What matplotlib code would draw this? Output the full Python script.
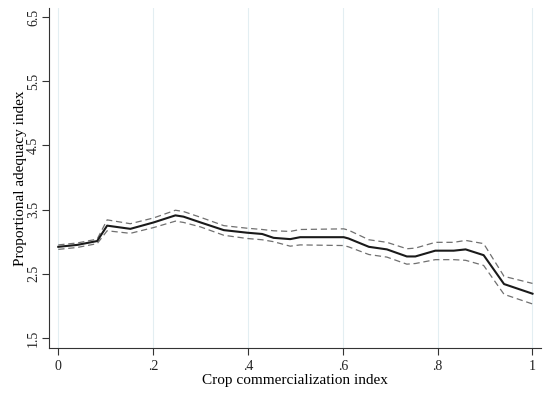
import matplotlib
matplotlib.use('Agg')
import matplotlib.pyplot as plt

plt.rcParams['font.family'] = ['Liberation Serif', 'DejaVu Serif']

# Fitted values
x = [0.0, 0.04, 0.082, 0.103, 0.152, 0.201, 0.247, 0.264, 0.30, 0.349, 0.398,
     0.43, 0.454, 0.489, 0.51, 0.602, 0.612, 0.655, 0.693, 0.735, 0.753,
     0.795, 0.834, 0.859, 0.897, 0.94, 1.0]
fit = [2.92, 2.95, 3.01, 3.25, 3.20, 3.30, 3.41, 3.39, 3.30, 3.18, 3.14,
       3.12, 3.06, 3.04, 3.07, 3.07, 3.05, 2.92, 2.88, 2.77, 2.77,
       2.86, 2.86, 2.88, 2.79, 2.34, 2.19]
upper = [2.95, 2.98, 3.04, 3.34, 3.28, 3.37, 3.49, 3.47, 3.38, 3.25, 3.21,
         3.19, 3.17, 3.16, 3.19, 3.20, 3.18, 3.03, 2.99, 2.89, 2.90,
         2.99, 2.99, 3.02, 2.97, 2.46, 2.35]
lower = [2.88, 2.91, 2.97, 3.17, 3.13, 3.22, 3.32, 3.30, 3.23, 3.10, 3.05,
         3.03, 3.00, 2.93, 2.95, 2.94, 2.92, 2.80, 2.76, 2.65, 2.66,
         2.72, 2.72, 2.71, 2.63, 2.18, 2.03]

xticks = [0, 0.2, 0.4, 0.6, 0.8, 1.0]
xticklabels = ['0', '.2', '.4', '.6', '.8', '1']
yticks = [1.5, 2.5, 3.5, 4.5, 5.5, 6.5]

fig = plt.figure(figsize=(5.45, 3.95), dpi=100)
ax = fig.add_axes([0.0899, 0.119, 0.9028, 0.8607])

# light vertical grid at the x ticks
for t in xticks:
    ax.axvline(t, color='#e3eef2', lw=0.8, zorder=0)

ax.plot(x, upper, color='#707070', lw=0.9, ls=(0, (5, 3)))
ax.plot(x, lower, color='#707070', lw=0.9, ls=(0, (5, 3)))
ax.plot(x, fit, color='#1a1a1a', lw=1.5)

ax.set_xlim(-0.0196, 1.018)
ax.set_ylim(1.344, 6.64)
ax.set_xticks(xticks)
ax.set_xticklabels(xticklabels)
ax.set_yticks(yticks)
ax.set_yticklabels([str(v) for v in yticks], rotation=90, va='center')

ax.spines['top'].set_visible(False)
ax.spines['right'].set_visible(False)
ax.spines['left'].set_color('#333333')
ax.spines['bottom'].set_color('#333333')
ax.tick_params(direction='out', length=5, width=0.8, colors='#333333',
               labelsize=10, labelcolor='#222222')
ax.tick_params(axis='y', pad=1.5)

ax.set_xlabel('Crop commercialization index', fontsize=11, labelpad=1)
ax.set_ylabel('Proportional adequacy index', fontsize=11, labelpad=0)

fig.savefig('out.png', dpi=100, facecolor='white')
